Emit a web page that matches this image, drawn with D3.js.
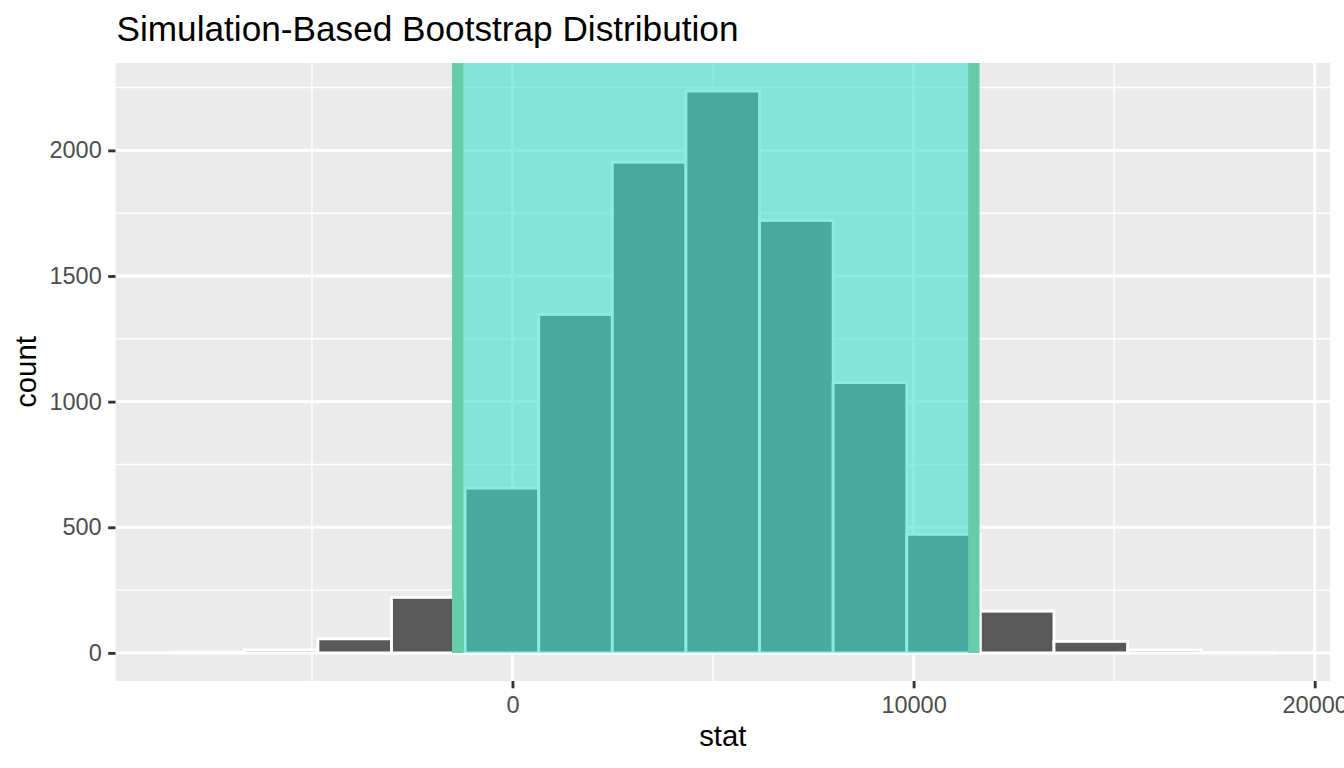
<!DOCTYPE html>
<html>
<head>
<meta charset="utf-8">
<script src="https://cdn.jsdelivr.net/npm/d3@7"></script>
<style>
    body { margin: 0; background: #ffffff; }
    svg { display: block; font-family: "Liberation Sans", Arial, Helvetica, sans-serif; }
</style>
</head>
<body>
<svg id="chart" width="1344" height="768"></svg>
<script>

// Histogram bins (15 bins, edges in stat units) and their counts
var binEdges = [-8520, -6685, -4850, -3015, -1180, 655, 2490, 4325, 6160, 7995, 9830, 11665, 13500, 15335, 17170, 19005];
var counts = [3, 12, 56, 221, 656, 1347, 1953, 2236, 1721, 1076, 472, 166, 46, 12, 2];

// Confidence interval endpoints (shaded region)
var ciEndpoints = [-1366, 11502];

// Axis ticks
var xTicks = [0, 10000, 20000];
var xMinorTicks = [-5000, 5000, 15000];
var yTicks = [0, 500, 1000, 1500, 2000];
var yMinorTicks = [250, 750, 1250, 1750, 2250];

var titleText = "Simulation-Based Bootstrap Distribution";
var xLabel = "stat";
var yLabel = "count";

var panel = { left: 115.5, right: 1330, top: 63, bottom: 681 };
var svg = d3.select("#chart");

// ggplot-style 5% expansion on both scales
var xSpan = binEdges[binEdges.length - 1] - binEdges[0];
var x = d3.scaleLinear()
          .domain([binEdges[0] - 0.05 * xSpan, binEdges[binEdges.length - 1] + 0.05 * xSpan])
          .range([panel.left, panel.right]);
var yMax = d3.max(counts);
var y = d3.scaleLinear()
          .domain([-0.05 * yMax, 1.05 * yMax])
          .range([panel.bottom, panel.top]);

var bins = counts.map(function(c, i){ return { x0: binEdges[i], x1: binEdges[i + 1], count: c }; });

// Panel background
svg.append("rect")
   .attr("x", panel.left)
   .attr("y", panel.top)
   .attr("width", panel.right - panel.left)
   .attr("height", panel.bottom - panel.top)
   .attr("fill", "#EBEBEB");

var grid = svg.append("g").attr("class", "grid");

// Minor then major gridlines
grid.selectAll(".xminor").data(xMinorTicks).enter().append("line")
    .attr("x1", function(d){ return x(d); }).attr("x2", function(d){ return x(d); })
    .attr("y1", panel.top).attr("y2", panel.bottom)
    .attr("stroke", "#ffffff").attr("stroke-width", 1.42);
grid.selectAll(".yminor").data(yMinorTicks).enter().append("line")
    .attr("x1", panel.left).attr("x2", panel.right)
    .attr("y1", function(d){ return y(d); }).attr("y2", function(d){ return y(d); })
    .attr("stroke", "#ffffff").attr("stroke-width", 1.42);
grid.selectAll(".xmajor").data(xTicks).enter().append("line")
    .attr("x1", function(d){ return x(d); }).attr("x2", function(d){ return x(d); })
    .attr("y1", panel.top).attr("y2", panel.bottom)
    .attr("stroke", "#ffffff").attr("stroke-width", 2.85);
grid.selectAll(".ymajor").data(yTicks).enter().append("line")
    .attr("x1", panel.left).attr("x2", panel.right)
    .attr("y1", function(d){ return y(d); }).attr("y2", function(d){ return y(d); })
    .attr("stroke", "#ffffff").attr("stroke-width", 2.85);

// Histogram bars
svg.append("g")
   .selectAll("rect")
   .data(bins)
   .enter().append("rect")
   .attr("x", function(d){ return x(d.x0); })
   .attr("y", function(d){ return y(d.count); })
   .attr("width", function(d){ return x(d.x1) - x(d.x0); })
   .attr("height", function(d){ return y(0) - y(d.count); })
   .attr("fill", "#595959")
   .attr("stroke", "#ffffff")
   .attr("stroke-width", 2.85);

// Shaded confidence interval
svg.append("rect")
   .attr("x", x(ciEndpoints[0]))
   .attr("y", panel.top)
   .attr("width", x(ciEndpoints[1]) - x(ciEndpoints[0]))
   .attr("height", y(0) - panel.top)
   .attr("fill", "turquoise")
   .attr("fill-opacity", 0.6);

svg.append("g")
   .selectAll("line")
   .data(ciEndpoints)
   .enter().append("line")
   .attr("x1", function(d){ return x(d); })
   .attr("x2", function(d){ return x(d); })
   .attr("y1", y(0))
   .attr("y2", panel.top)
   .attr("stroke", "mediumaquamarine")
   .attr("stroke-width", 11.4);

// Axes
var xAxis = svg.append("g")
               .attr("transform", "translate(0," + panel.bottom + ")")
               .call(d3.axisBottom(x).tickValues(xTicks).tickFormat(d3.format("d")).tickSize(7.3).tickPadding(8.4));
var yAxis = svg.append("g")
               .attr("transform", "translate(" + panel.left + ",0)")
               .call(d3.axisLeft(y).tickValues(yTicks).tickFormat(d3.format("d")).tickSize(7.3).tickPadding(6.5));

[xAxis, yAxis].forEach(function(ax){
    ax.select(".domain").remove();
    ax.selectAll(".tick line").attr("stroke", "#333333").attr("stroke-width", 2.85);
    ax.selectAll(".tick text")
      .attr("fill", "#4D4D4D")
      .style("font-size", "23.5px")
      .style("font-family", "\"Liberation Sans\", Arial, Helvetica, sans-serif");
});

// Titles
svg.append("text")
   .attr("x", 116.5)
   .attr("y", 40.5)
   .attr("fill", "#000000")
   .style("font-size", "35.2px")
   .text(titleText);

svg.append("text")
   .attr("x", (panel.left + panel.right) / 2)
   .attr("y", 745.5)
   .attr("text-anchor", "middle")
   .attr("fill", "#000000")
   .style("font-size", "29.3px")
   .text(xLabel);

svg.append("text")
   .attr("transform", "translate(36," + ((panel.top + panel.bottom) / 2) + ") rotate(-90)")
   .attr("text-anchor", "middle")
   .attr("fill", "#000000")
   .style("font-size", "29.3px")
   .text(yLabel);

</script>
</body>
</html>
